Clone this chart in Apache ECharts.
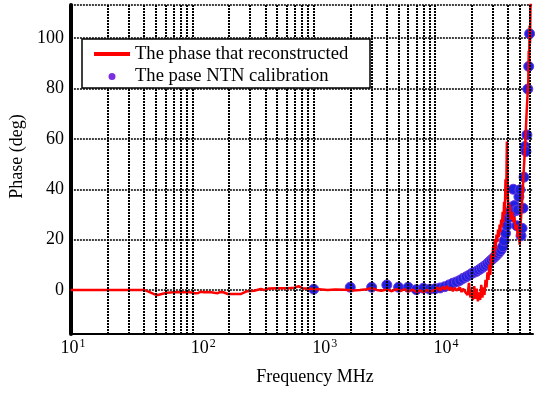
<!DOCTYPE html>
<html><head><meta charset="utf-8">
<script src="https://cdn.jsdelivr.net/npm/echarts@6/dist/echarts.min.js"></script>
<style>html,body{margin:0;padding:0;background:#fff}#c{width:535px;height:394px}</style>
</head><body><div id="c"></div>
<script>
// ---- data ----
const seriesNames = ['The phase that reconstructed', 'The pase NTN calibration'];
const xLabelDecades = [10, 100, 1000, 10000];
const yTickValues = [0, 20, 40, 60, 80, 100];
const xGridFreqs = [20,30,40,50,60,70,80,90,100,200,300,400,500,600,700,800,900,1000,
  2000,3000,4000,5000,6000,7000,8000,9000,10000,20000,30000,40000,50000,60000];

const recFreq = [10,20,30,40,44,48,52,57,62,70,78,85,92,98,105,112,118,125,133,143,152,162,170,180,196,220,252,284,323,367,390,427,500,607,700,750,802,930,1000,
  1100,1300,1500,1800,2100,2400,2740,3000,3300,3600,4000,4400,4800,5200,5600,6000,6500,7000,7500,8000,8500,9000,9500,10000,
  10500,11000,11500,12000,12500,13000,13500,14000,14500,15000,16000,16500,17000,17500,18000,18500,19000,19500,20000,20500,21000,21500,22000,22500,23000,23500,24000,24500,25000,25500,26000,26500,27000,27500,28000,28500,29000,29500,30000,30500,31000,31500,32000,32500,33000,33500,34000,34500,35000,35500,36000,36500,37000,37500,38000,38500,39000,39500,40000,40500,41000,42000,43000,44000,45000,46000,47000,48000,49000,49700,50500,51500,52500,53500,54500,55500,56500,57500,58500,59000,59500,60000,60500,61000,61500];
const recPhase = [0,0,0,0,-0.8,-1.6,-2,-1.5,-1.1,-0.9,-0.8,-0.9,-0.8,-1.0,-1.3,-1.2,-0.7,-0.9,-0.8,-0.9,-1.1,-1.3,-0.8,-0.9,-1.6,-1.6,-1.6,-0.5,-0.3,0.4,0.0,0.6,0.7,0.7,0.9,1.5,0.7,0.5,0.4,
  0.3,0.0,0.2,0.1,-0.2,0.0,0.3,0.8,0.0,-0.3,0.2,-0.5,0.3,-0.4,0.2,-0.6,0.1,-0.7,-0.2,-0.8,0.0,-0.6,-0.3,0.0,
  1.0,-0.3,1.2,0.2,1.5,0.0,1.0,-0.5,0.8,-0.2,1.0,-0.8,0.5,-0.5,0.2,-2.0,2.8,-3.0,-1.0,-4.0,1.5,-3.5,0.5,-4.5,-1.0,-4.0,2.0,-3.0,1.0,-2.0,4.0,1.0,7.0,4.0,10.0,6.0,14.0,10.0,17.0,13.0,20.0,16.0,22.0,19.0,24.0,21.0,26.0,23.0,28.0,25.0,31.0,27.0,35.0,30.0,44.0,36.0,59.0,42.0,33.0,31.0,34.0,28.0,31.0,27.0,29.0,24.0,26.0,21.0,23.0,18.0,25.0,32.0,38.0,46.0,53.0,60.0,69.0,76.0,82.0,95.0,90.0,105.0,98.0,112.0,118.0];

const calFreq = [1000,2000,3000,4000,5000,6000,7000,8000,9000,
  10000,11000,12000,13000,14000,15000,16000,17000,18000,19000,20000,21000,22000,23000,24000,25000,26000,27000,28000,29000,30000,
  31000,32000,33000,34000,35000,36000,37000,38000,39000,40000,41000,42000,43000,44000,45000,46000,47000,48000,49000,50000,
  51000,52000,53000,54000,55000,56000,57000,58000,59000,60000];
const calPhase = [0.3,1.1,1.1,2.0,1.1,1.1,0.1,0.7,0.3,
  0.5,0.8,1.3,2.0,2.7,3.2,3.8,4.6,5.2,5.8,6.5,7.0,7.4,8.0,8.6,9.2,9.8,10.5,11.2,11.9,12.5,
  13.2,13.8,14.5,15.2,16.0,17.2,19.5,22.5,25.5,28.5,31.0,30.0,33.0,40.0,33.5,31.5,25.5,31.8,37.0,39.8,
  21.5,24.5,32.5,44.8,57.0,55.0,61.6,79.8,88.8,101.8];

// ---- chart ----
const FONT = 'Liberation Serif';
const chart = echarts.init(document.getElementById('c'), null, {renderer: 'canvas'});
const recData = recFreq.map((f, i) => [f, recPhase[i]]);
const calData = calFreq.map((f, i) => [f, calPhase[i]]);

chart.setOption({
  animation: false,
  backgroundColor: '#fff',
  grid: {left: 69, right: 2, top: 5, bottom: 60, containLabel: false},
  xAxis: {
    type: 'log', logBase: 10, min: 10, max: 64000,
    name: 'Frequency MHz', nameLocation: 'middle', nameGap: 34,
    nameTextStyle: {fontFamily: FONT, fontSize: 18, color: '#000', padding: [0, 0, 0, 26]},
    axisLine: {show: true, onZero: false, lineStyle: {color: '#000', width: 2}},
    axisTick: {show: false},
    splitLine: {show: false},
    axisLabel: {
      showMaxLabel: false, margin: 4,
      formatter: function (v) {
        if (xLabelDecades.indexOf(Math.round(v)) < 0) return '';
        const k = Math.round(Math.log10(v));
        return (k === 1 ? '{a|10}' : '{p|10}') + '{s|' + k + '}';
      },
      rich: {
        a: {fontFamily: FONT, fontSize: 18, color: '#000', padding: [0, 0, 0, 4], lineHeight: 20},
        p: {fontFamily: FONT, fontSize: 18, color: '#000', padding: [0, 0, 0, 22], lineHeight: 20},
        s: {fontFamily: FONT, fontSize: 12, color: '#000', padding: [0, 0, 9, 1]}
      }
    }
  },
  yAxis: {
    type: 'value', min: -17.5, max: 113.2, splitNumber: 6,
    name: 'Phase (deg)', nameLocation: 'middle', nameGap: 42,
    nameTextStyle: {fontFamily: FONT, fontSize: 18, color: '#000', padding: [0, 0, 0, 26]},
    axisLine: {show: true, lineStyle: {color: '#000', width: 4}},
    axisTick: {show: false},
    axisLabel: {
      margin: 7, fontFamily: FONT, fontSize: 18, color: '#000',
      showMinLabel: false, showMaxLabel: false,
      formatter: function (v) { return yTickValues.indexOf(Math.round(v * 1000) / 1000) >= 0 ? String(v) : ''; }
    },
    splitLine: {show: true, lineStyle: {color: '#000', width: 1.5, type: [2, 1]}}
  },
  legend: {
    left: 94, top: 44, orient: 'vertical', padding: 0, itemGap: 2.5,
    itemWidth: 36, itemHeight: 7, z: 20,
    textStyle: {fontFamily: FONT, fontSize: 18.6, color: '#000', lineHeight: 20},
    data: [
      {name: seriesNames[0], icon: 'path://M0,0L36,0L36,4L0,4Z', itemStyle: {color: '#ff0000'}},
      {name: seriesNames[1], icon: 'circle', itemStyle: {color: '#7b2fe0', borderWidth: 0}}
    ]
  },
  graphic: [{
    type: 'rect', z: 15,
    shape: {x: 82, y: 39, width: 288, height: 49},
    style: {fill: '#fff', stroke: '#000', lineWidth: 1.5}
  }],
  series: [
    {
      type: 'line', data: [], z: 1, silent: true,
      markLine: {
        silent: true, symbol: ['none', 'none'], animation: false,
        label: {show: false},
        lineStyle: {color: '#000', width: 2, type: [2, 1]},
        data: xGridFreqs.map(v => ({xAxis: v}))
      }
    },
    {
      name: seriesNames[1], type: 'scatter', data: calData, z: 3,
      symbol: 'circle', symbolSize: 10,
      itemStyle: {color: '#2020e0', borderColor: '#6a3ae0', borderWidth: 1, opacity: 1}
    },
    {
      name: seriesNames[0], type: 'line', data: recData, z: 4,
      symbol: 'none', showSymbol: false,
      lineStyle: {color: '#ff0000', width: 2.5},
      itemStyle: {color: '#ff0000'}
    }
  ]
});
</script>
</body></html>
